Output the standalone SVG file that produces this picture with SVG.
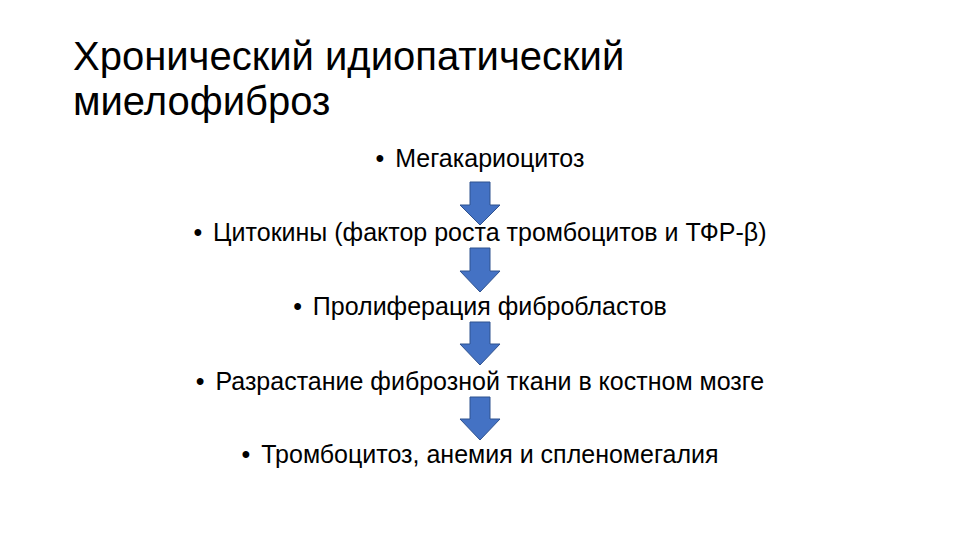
<svg xmlns="http://www.w3.org/2000/svg" width="960" height="540" viewBox="0 0 960 540">
<defs>
<style>
.title{font-family:"Liberation Sans","Open Sans",Arial,sans-serif;font-size:40px;fill:#000;}
.item{font-family:"Liberation Sans","Open Sans",Arial,sans-serif;font-size:25px;fill:#000;text-anchor:middle;}
.arrow{fill:#4472C4;stroke:#2F528F;stroke-width:1;}
</style>
</defs>
<rect width="960" height="540" fill="#fff"/>
<g id="title">
<text class="title" x="73" y="70">Хронический идиопатический</text>
<text class="title" x="73" y="115">миелофиброз</text>
</g>
<g id="n1"><text class="item" x="480" y="167">•<tspan dx="4"> Мегакариоцитоз</tspan></text></g>
<g id="n2"><text class="item" x="480" y="241">•<tspan dx="4"> Цитокины (фактор роста тромбоцитов и ТФР-β)</tspan></text></g>
<g id="n3"><text class="item" x="480" y="315">•<tspan dx="4"> Пролиферация фибробластов</tspan></text></g>
<g id="n4"><text class="item" x="480" y="390">•<tspan dx="4"> Разрастание фиброзной ткани в костном мозге</tspan></text></g>
<g id="n5"><text class="item" x="480" y="463">•<tspan dx="4"> Тромбоцитоз, анемия и спленомегалия</tspan></text></g>
<g id="connectors">
<polygon class="arrow" points="470,182 490,182 490,205 500,205 480,225 460,205 470,205"/>
<polygon class="arrow" points="470,248 490,248 490,271 500,271 480,292 460,271 470,271"/>
<polygon class="arrow" points="470,322 490,322 490,344 500,344 480,365 460,344 470,344"/>
<polygon class="arrow" points="470,397 490,397 490,419 500,419 480,440 460,419 470,419"/>
</g>
</svg>
